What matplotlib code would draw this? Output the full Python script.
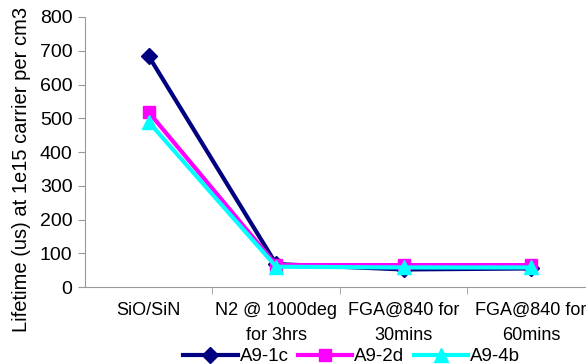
import matplotlib
matplotlib.use("Agg")
import matplotlib.pyplot as plt

plt.rcParams["font.family"] = ["Liberation Sans", "DejaVu Sans"]

categories = ["SiO/SiN", "N2 @ 1000deg\nfor 3hrs", "FGA@840 for\n30mins", "FGA@840 for\n60mins"]
a9_1c = [684, 68, 52, 55]
a9_2d = [518, 65, 65, 65]
a9_4b = [489, 60, 58, 58]

fig = plt.figure(figsize=(5.86, 3.64), dpi=100)
ax = fig.add_axes([0.145, 0.2115, 0.87, 0.7418])

x = list(range(len(categories)))
ax.plot(x, a9_1c, color="#000080", lw=3, marker="D", ms=8, label="A9-1c", zorder=3)
ax.plot(x, a9_2d, color="#FF00FF", lw=3, marker="s", ms=9, label="A9-2d", zorder=4)
ax.plot(x, a9_4b, color="#00FFFF", lw=3, marker="^", ms=10, label="A9-4b", zorder=5)

ax.set_xlim(-0.5, 3.5)
ax.set_ylim(0, 800)
ax.set_yticks(range(0, 801, 100))
ax.set_xticks(x)
ax.set_xticklabels(categories, fontsize=13, va="top", linespacing=1.6)
ax.set_xticks([0.5, 1.5, 2.5], minor=True)
ax.tick_params(axis="x", which="major", length=0, pad=11)
ax.tick_params(axis="x", which="minor", length=5, color="#999999")
ax.tick_params(axis="y", labelsize=14, length=5, color="#999999", pad=4)
ax.set_ylabel("Lifetime (us) at 1e15 carrier per cm3", fontsize=14.5)
ax.yaxis.set_label_coords(-0.105, 0.437)

for side in ["top", "right"]:
    ax.spines[side].set_visible(False)
for side in ["left", "bottom"]:
    ax.spines[side].set_color("#999999")

fig.legend(loc="center", bbox_to_anchor=(0.6, 0.02), ncol=3, frameon=False,
           fontsize=13.5, handlelength=2.9, handletextpad=0.1, columnspacing=0.5,
           borderaxespad=0, borderpad=0)

fig.savefig("out.png", dpi=100)
